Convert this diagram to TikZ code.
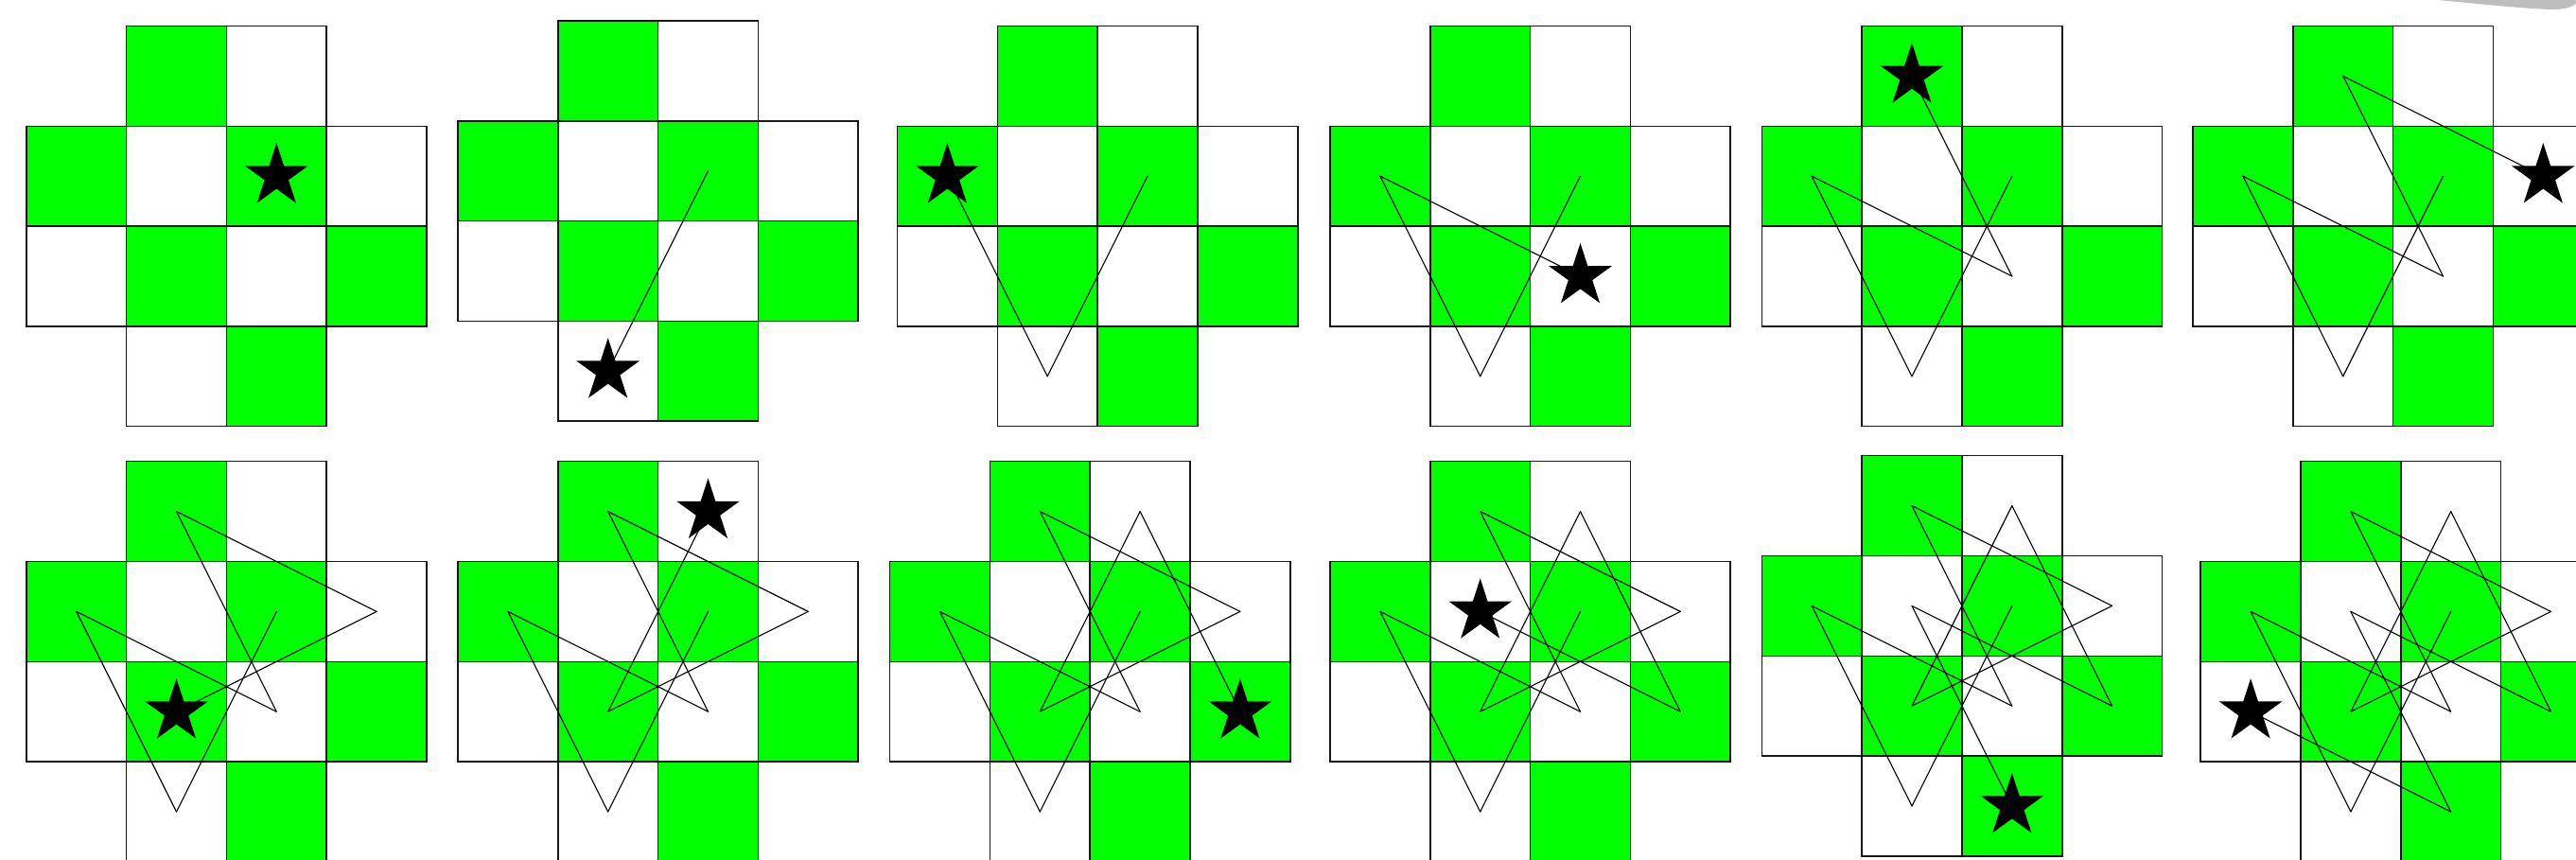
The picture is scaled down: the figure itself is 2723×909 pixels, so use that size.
\documentclass[tikz,border=0pt]{standalone}
\usetikzlibrary{shapes.geometric}
\definecolor{mplgreen}{RGB}{0,255,0}
\definecolor{swoosh}{RGB}{190,190,190}
\def\cellsz{105.8}
\tikzset{
  greencell/.style={fill=mplgreen},
  whitecell/.style={fill=white},
  cellborder/.style={draw=black!90, line width=0.45pt},
  tourline/.style={draw=black, line width=0.32pt, line cap=round},
  starmark/.style={star, star points=5, star point ratio=2.618, fill=black, draw=none, inner sep=0pt, minimum size=0.70cm}
}
\newcommand{\tourpanel}[4]{%
\begin{scope}[shift={(#2,#3)}]
  \foreach \c/\r in {1/0,0/1,2/1,1/2,3/2,2/3}
    \path[greencell] (\c*\cellsz,\r*\cellsz) rectangle ++(\cellsz,\cellsz);
  \foreach \c/\r in {2/0,1/1,3/1,0/2,2/2,1/3}
    \path[whitecell] (\c*\cellsz,\r*\cellsz) rectangle ++(\cellsz,\cellsz);
  \foreach \c/\r in {1/0,2/0,0/1,1/1,2/1,3/1,0/2,1/2,2/2,3/2,1/3,2/3}{
    \path[cellborder] (\c*\cellsz,\r*\cellsz) rectangle ++(\cellsz,\cellsz);
    \coordinate (#1-\c-\r) at ({(\c+0.5)*\cellsz},{(\r+0.5)*\cellsz});
  }
  \foreach \p [count=\i, remember=\p as \pp (initially 2-1)] in {2-1,1-3,0-1,2-2,1-0,3-1,1-2,2-0,3-2,1-1,2-3,0-2}{
    \ifnum\i>1 \ifnum\i>#4 \else \draw[tourline] (#1-\pp) -- (#1-\p);\fi\fi
    \ifnum\i=#4 \node[starmark] (#1-star) at (#1-\p) {};\fi
  }
\end{scope}}
\begin{document}
\begin{tikzpicture}[x=0.01cm, y=-0.01cm]
\useasboundingbox (0,0) rectangle (2723,909);
\clip (0,0) rectangle (2723,909);
\fill[white] (0,0) rectangle (2723,909);
% top row
\tourpanel{a1}{27.8}{27.5}{1}
\tourpanel{a2}{484}{22}{2}
\tourpanel{a3}{948.5}{27.5}{3}
\tourpanel{a4}{1406}{27.5}{4}
\tourpanel{a5}{1862.3}{27.5}{5}
\tourpanel{a6}{2318}{27.5}{6}
% bottom row
\tourpanel{b1}{27.8}{487.7}{7}
\tourpanel{b2}{484}{487.7}{8}
\tourpanel{b3}{940.6}{487.7}{9}
\tourpanel{b4}{1406}{487.7}{10}
\tourpanel{b5}{1862.3}{481.7}{11}
\tourpanel{b6}{2326.2}{487.7}{12}
% grey swoosh at the top right corner
\fill[swoosh] (2577,0) .. controls (2620,4) and (2665,9) .. (2698,10) .. controls (2712,10) and (2719,7) .. (2723,4) -- (2723,0) -- cycle;
\end{tikzpicture}
\end{document}
